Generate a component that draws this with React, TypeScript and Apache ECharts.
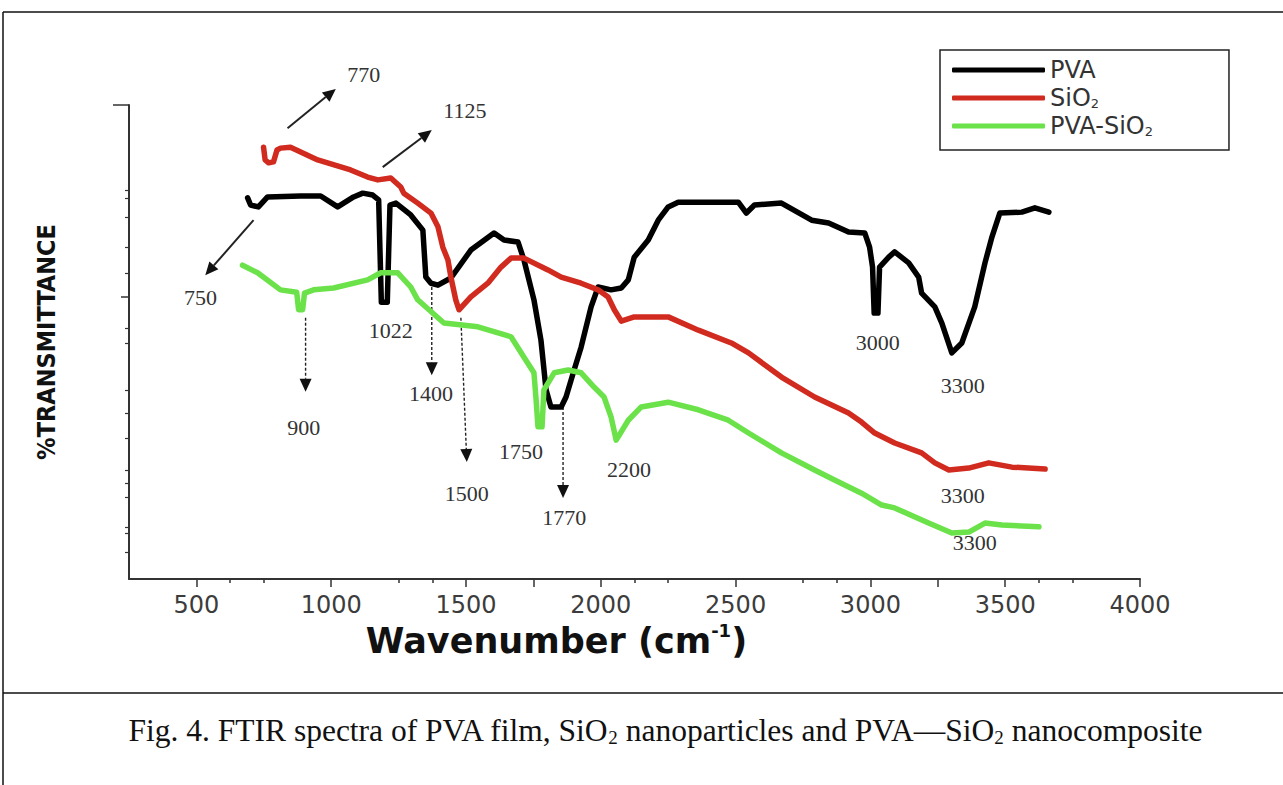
import React, { useEffect, useRef } from "react";
import * as echarts from "echarts";

// ---- data (wavenumber cm^-1, relative % transmittance) ----
const pvaData: [number, number][] = [
  [690, 80.4], [701, 78.9], [730, 78.5], [764, 80.6], [886, 80.8], [961, 80.8], [1024, 78.5], [1083, 80.6],
  [1117, 81.4], [1154, 81.0], [1176, 80.0], [1186, 58.4], [1208, 58.4], [1218, 78.9], [1240, 79.3], [1295, 76.8],
  [1340, 73.6], [1351, 63.7], [1370, 62.4], [1396, 62.0], [1444, 63.5], [1518, 69.4], [1604, 73.0], [1641, 71.5],
  [1693, 71.1], [1715, 67.3], [1752, 58.9], [1778, 50.4], [1797, 39.9], [1815, 36.3], [1853, 36.3], [1871, 38.4],
  [1901, 44.1], [1927, 48.9], [1964, 57.4], [1990, 61.6], [2038, 61.0], [2076, 61.4], [2102, 63.1], [2124, 67.9],
  [2176, 71.5], [2213, 75.7], [2250, 78.5], [2287, 79.5], [2510, 79.5], [2540, 77.2], [2570, 78.9], [2670, 79.3],
  [2782, 75.7], [2845, 75.1], [2919, 73.2], [2979, 73.0], [2997, 70.0], [3008, 65.8], [3014, 56.1], [3028, 56.1],
  [3034, 65.8], [3068, 67.9], [3090, 69.0], [3142, 66.7], [3179, 63.7], [3190, 60.3], [3239, 57.4], [3265, 54.0],
  [3302, 47.7], [3339, 49.8], [3387, 57.4], [3425, 66.7], [3451, 72.2], [3480, 77.2], [3562, 77.4], [3610, 78.3],
  [3662, 77.4],
];

const sio2Data: [number, number][] = [
  [749, 91.1], [755, 88.4], [768, 87.8], [786, 88.0], [799, 90.5], [812, 90.9], [849, 91.1], [950, 88.4],
  [1072, 86.3], [1135, 84.8], [1173, 84.2], [1221, 84.6], [1258, 82.7], [1269, 81.4], [1321, 79.3], [1370, 77.2],
  [1396, 74.3], [1414, 70.0], [1433, 67.3], [1444, 63.7], [1462, 58.9], [1474, 56.8], [1518, 59.5], [1581, 62.4],
  [1630, 65.8], [1667, 67.7], [1715, 67.7], [1804, 65.2], [1853, 63.7], [1927, 62.4], [1990, 61.0], [2027, 59.5],
  [2050, 56.8], [2076, 54.4], [2124, 55.3], [2250, 55.3], [2362, 52.5], [2484, 49.8], [2548, 47.7], [2670, 42.6],
  [2793, 38.4], [2919, 35.0], [2967, 33.1], [3016, 30.8], [3090, 28.7], [3190, 26.6], [3239, 24.5], [3291, 23.0],
  [3365, 23.4], [3439, 24.5], [3525, 23.6], [3648, 23.2],
];

const pvaSio2Data: [number, number][] = [
  [671, 66.2], [727, 64.6], [812, 61.0], [872, 60.5], [879, 56.8], [894, 56.8], [901, 60.3], [935, 61.0],
  [1009, 61.4], [1135, 63.1], [1184, 64.6], [1247, 64.6], [1295, 61.6], [1321, 58.9], [1418, 54.0], [1544, 53.2],
  [1667, 51.1], [1715, 46.8], [1752, 43.5], [1760, 37.8], [1767, 32.1], [1782, 32.1], [1789, 39.9], [1827, 43.5],
  [1879, 44.1], [1927, 43.5], [1975, 40.5], [2012, 38.4], [2038, 34.2], [2057, 29.3], [2102, 33.5], [2150, 36.3],
  [2250, 37.3], [2362, 35.7], [2473, 33.5], [2548, 30.8], [2670, 26.6], [2793, 23.0], [2867, 20.9], [2967, 18.1],
  [3042, 15.6], [3090, 15.0], [3216, 11.8], [3302, 9.7], [3365, 9.9], [3425, 11.8], [3488, 11.4], [3625, 11.0],
];

const seriesNames = ["PVA", "SiO2", "PVA-SiO2"];
const seriesColors = ["#000000", "#d12a1f", "#6be24a"];

const xTickLabels = [500, 1000, 1500, 2000, 2500, 3000, 3500, 4000];
const xMajorTicks = [500, 1000, 1500, 1750, 2000, 2500, 3000, 3250, 3500, 4000];
const xMinorTicks = [625, 750, 1250, 1375, 2125, 2250, 2750, 2875, 3625, 3750];
const yTopTicks = [100];
const yMidTicks = [59.5];
const yMinorTicks = [82.1, 80.4, 76.4, 70.0, 64.6, 53.0, 49.8, 39.9, 35.0, 29.7, 23.0, 20.3, 17.3, 11.0, 9.7, 5.7];

// peak annotations: [label, wavenumber, transmittance]
const annotationLabels: [string, number, number][] = [
  ["770", 1121, 106.5], ["1125", 1496, 98.9], ["750", 515, 59.3], ["1022", 1221, 52.5],
  ["900", 898, 31.9], ["1400", 1370, 39.2], ["1500", 1503, 18.1], ["1750", 1704, 26.8],
  ["1770", 1864, 12.9], ["2200", 2105, 23.0], ["3000", 3027, 49.8], ["3300", 3343, 40.9],
  ["3300", 3343, 17.7], ["3300", 3387, 7.6],
];
// arrows: [x1, y1, x2, y2, dotted]
const annotationArrows: [number, number, number, number, number][] = [
  [838, 95.1, 1017, 103.4, 0], [1191, 86.9, 1373, 94.7, 0], [712, 75.7, 533, 64.1, 0],
  [905, 55.1, 905, 39.5, 1], [1373, 61.6, 1373, 43.0, 1], [1481, 55.1, 1503, 24.7, 1],
  [1860, 36.3, 1860, 17.1, 1],
];

const SANS = '"DejaVu Sans", "Liberation Sans", sans-serif';
const SERIF = '"Liberation Serif", "DejaVu Serif", serif';

export default function App() {
  const ref = useRef<HTMLDivElement>(null);
  useEffect(() => {
    if (!ref.current) return;
    const chart = echarts.init(ref.current, undefined, { renderer: "svg" });
    const datasets = [pvaData, sio2Data, pvaSio2Data];
    const legendRich = {
      t: { fontFamily: SANS, fontSize: 24, color: "#333", lineHeight: 24 },
      s: { fontFamily: SANS, fontSize: 13, color: "#333", lineHeight: 13, verticalAlign: "bottom" },
    };
    const option: any = {
      animation: false,
      backgroundColor: "#ffffff",
      grid: { left: 129, top: 105, width: 1011, height: 474, containLabel: false },
      legend: {
        orient: "vertical",
        left: 940,
        top: 50,
        padding: [8, 76, 12, 12],
        borderColor: "#222",
        borderWidth: 1.5,
        itemWidth: 93,
        itemHeight: 5,
        itemGap: 4,
        icon: "roundRect",
        selectedMode: false,
        data: seriesNames,
        formatter: (name: string) =>
          name === "SiO2" ? "{t|SiO}{s|2}" : name === "PVA-SiO2" ? "{t|PVA-SiO}{s|2}" : "{t|" + name + "}",
        textStyle: { rich: legendRich },
      },
      xAxis: [
        {
          type: "value",
          min: 250,
          max: 4000,
          position: "bottom",
          axisLine: { show: true, onZero: false, lineStyle: { color: "#333", width: 2 } },
          axisTick: { show: true, customValues: xMajorTicks, length: 8, lineStyle: { color: "#333", width: 1.5 } },
          axisLabel: {
            show: true,
            customValues: xTickLabels,
            formatter: (v: number) => String(v),
            fontFamily: SANS,
            fontSize: 24,
            color: "#3c3c3c",
            margin: 14,
          },
          splitLine: { show: false },
          name: "{a|Wavenumber (cm}{b|-1}{a|)}",
          nameLocation: "middle",
          nameGap: 42,
          nameTextStyle: {
            padding: [0, 156, 0, 0],
            rich: {
              a: { fontFamily: SANS, fontWeight: "bold", fontSize: 35, color: "#111", lineHeight: 38 },
              b: { fontFamily: SANS, fontWeight: "bold", fontSize: 18, color: "#111", lineHeight: 18, verticalAlign: "top" },
            },
          },
        },
        {
          type: "value",
          min: 250,
          max: 4000,
          position: "bottom",
          axisLine: { show: false, onZero: false },
          axisTick: { show: true, customValues: xMinorTicks, length: 4, lineStyle: { color: "#333", width: 1.5 } },
          axisLabel: { show: false },
          splitLine: { show: false },
        },
      ],
      yAxis: [
        {
          type: "value",
          min: 0,
          max: 100,
          position: "left",
          axisLine: { show: true, onZero: false, lineStyle: { color: "#333", width: 2 } },
          axisTick: { show: true, customValues: yTopTicks, length: 16, lineStyle: { color: "#333", width: 1.5 } },
          axisLabel: { show: false },
          splitLine: { show: false },
          name: "%TRANSMITTANCE",
          nameLocation: "middle",
          nameGap: 70,
          nameRotate: 90,
          nameTextStyle: {
            fontFamily: '"Liberation Sans Narrow", "DejaVu Sans Condensed", "Liberation Sans", sans-serif',
            fontWeight: "bold",
            fontSize: 25,
            color: "#111",
          },
        },
        {
          type: "value",
          min: 0,
          max: 100,
          position: "left",
          axisLine: { show: false, onZero: false },
          axisTick: { show: true, customValues: yMidTicks, length: 8, lineStyle: { color: "#333", width: 1.5 } },
          axisLabel: { show: false },
          splitLine: { show: false },
        },
        {
          type: "value",
          min: 0,
          max: 100,
          position: "left",
          axisLine: { show: false, onZero: false },
          axisTick: { show: true, customValues: yMinorTicks, length: 4, lineStyle: { color: "#333", width: 1.2 } },
          axisLabel: { show: false },
          splitLine: { show: false },
        },
      ],
      series: seriesNames.map((name, i) => ({
        type: "line",
        name,
        xAxisIndex: 0,
        yAxisIndex: 0,
        data: datasets[i],
        symbol: "none",
        silent: true,
        lineStyle: { color: seriesColors[i], width: 5.5, cap: "round", join: "round" },
        itemStyle: { color: seriesColors[i] },
      })),
    };
    chart.setOption(option);

    const toPx = (p: [number, number]) => chart.convertToPixel({ xAxisIndex: 0, yAxisIndex: 0 }, p) as number[];
    const g: any[] = [];
    // frame of the figure
    g.push({ type: "line", silent: true, shape: { x1: 3, y1: 12, x2: 1283, y2: 12 }, style: { stroke: "#111", lineWidth: 1.5 } });
    g.push({ type: "line", silent: true, shape: { x1: 3, y1: 12, x2: 3, y2: 785 }, style: { stroke: "#111", lineWidth: 1.5 } });
    g.push({ type: "line", silent: true, shape: { x1: 3, y1: 693, x2: 1283, y2: 693 }, style: { stroke: "#111", lineWidth: 1.5 } });

    annotationArrows.forEach(([x1, y1, x2, y2, dotted]) => {
      const a = toPx([x1, y1]);
      const b = toPx([x2, y2]);
      const dx = b[0] - a[0];
      const dy = b[1] - a[1];
      const len = Math.hypot(dx, dy) || 1;
      const ux = dx / len;
      const uy = dy / len;
      const L = 13;
      const W = 6;
      const bx = b[0] - ux * L;
      const by = b[1] - uy * L;
      g.push({
        type: "line",
        silent: true,
        shape: { x1: a[0], y1: a[1], x2: bx, y2: by },
        style: { stroke: "#222", lineWidth: dotted ? 1.4 : 2, lineDash: dotted ? [3, 2] : null },
      });
      g.push({
        type: "polygon",
        silent: true,
        shape: { points: [[b[0], b[1]], [bx - uy * W, by + ux * W], [bx + uy * W, by - ux * W]] },
        style: { fill: "#111" },
      });
    });

    annotationLabels.forEach(([text, x, y]) => {
      const p = toPx([x, y]);
      g.push({
        type: "text",
        silent: true,
        x: p[0],
        y: p[1],
        style: { text, fontFamily: SERIF, fontSize: 22, fill: "#333", align: "center", verticalAlign: "middle" },
      });
    });

    g.push({
      type: "text",
      silent: true,
      x: 665,
      y: 730,
      style: {
        text: "{a|Fig. 4. FTIR spectra of PVA film, SiO}{s|2}{a| nanoparticles and PVA—SiO}{s|2}{a| nanocomposite}",
        align: "center",
        verticalAlign: "middle",
        rich: {
          a: { fontFamily: SERIF, fontSize: 31.5, fill: "#111", color: "#111", lineHeight: 34 },
          s: { fontFamily: SERIF, fontSize: 19, fill: "#111", color: "#111", lineHeight: 19, verticalAlign: "bottom" },
        },
      },
    });

    chart.setOption({ graphic: g });
    return () => chart.dispose();
  }, []);

  return (
    <div
      ref={ref}
      style={{ position: "fixed", left: 0, top: 0, width: 1283, height: 785, background: "#fff" }}
    />
  );
}
